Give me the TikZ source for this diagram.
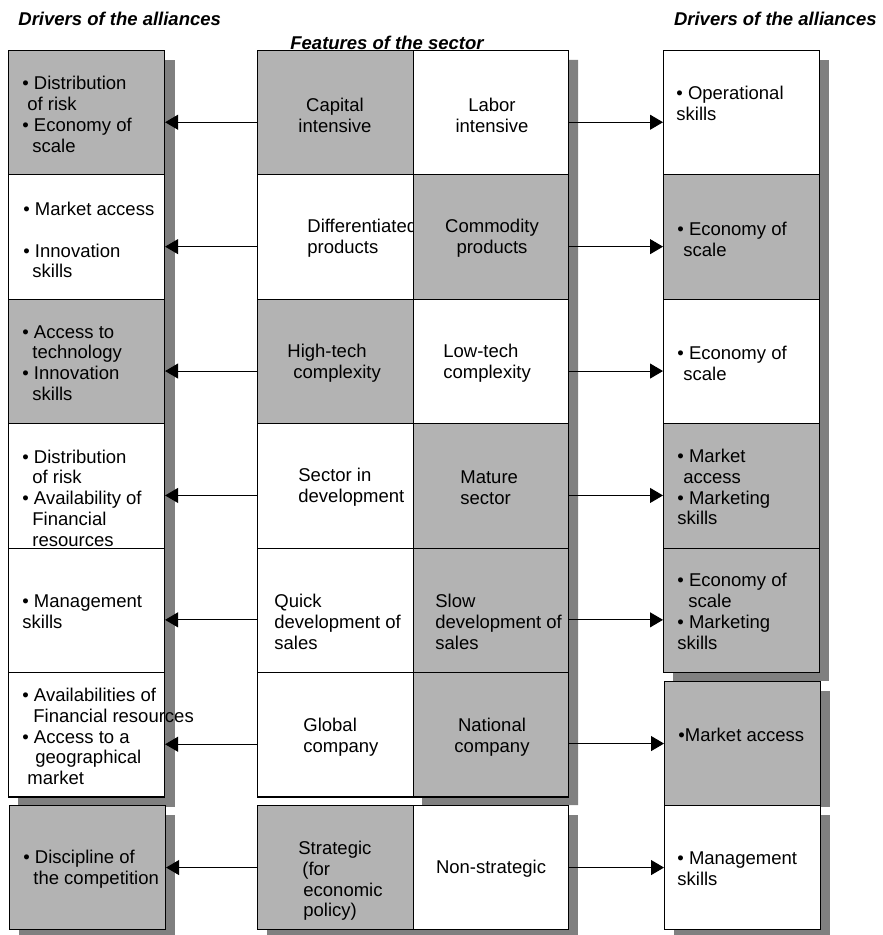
\documentclass[tikz,border=0pt]{standalone}
\usepackage{fontspec}
\setmainfont{Liberation Sans}
\usetikzlibrary{arrows.meta}
\definecolor{boxgrey}{RGB}{179,179,179}
\definecolor{shadowgrey}{RGB}{128,128,128}
\tikzset{every node/.style={align=left}}
\tikzset{cell/.style={draw, line width=0.55pt, anchor=north west, inner sep=0pt, minimum width=78pt, minimum height=62.2pt}}
\tikzset{greycell/.style={cell, fill=boxgrey}}
\tikzset{whitecell/.style={cell, fill=white}}
\tikzset{txt/.style={inner sep=0pt, anchor=west, font=\fontsize{9.25}{10.4}\selectfont}}
\tikzset{ctxt/.style={txt, anchor=center, align=center}}
\tikzset{heading/.style={inner sep=0pt, font=\fontsize{9.25}{10.4}\selectfont\bfseries\itshape}}
\tikzset{shadowbox/.style={fill=shadowgrey}}
\tikzset{arr/.style={line width=0.5pt, -{Triangle[length=6.5pt, width=7.5pt]}}}

\begin{document}
\begin{tikzpicture}[x=0.5pt, y=-0.5pt]
	\useasboundingbox (0,0) rectangle (882,935);
	
	% Shadows
	\fill[shadowbox] (18,60) rectangle (175,807);
	\fill[shadowbox] (19,815) rectangle (175,935);
	\fill[shadowbox] (568,60) -- (578,60) -- (578,805) -- (422,805) -- (422,796) -- (568,796) -- cycle;
	\fill[shadowbox] (267,815) rectangle (578,935);
	\fill[shadowbox] (673,60) rectangle (829,681);
	\fill[shadowbox] (674,691) rectangle (830,807);
	\fill[shadowbox] (674,815) rectangle (830,935);
	
	% Headings
	\node[heading, anchor=west] (hl) at (18,19) {Drivers of the alliances};
	\node[heading, anchor=east] (hr) at (877,19) {Drivers of the alliances};
	\node[heading, anchor=base west] (hm) at (290,49.5) {Features of the sector};
	
	% Left column
	\node[greycell] (l1) at (8,50) {};
	\node[whitecell] (l2) at (8,174.4) {};
	\node[greycell] (l3) at (8,298.8) {};
	\node[whitecell] (l4) at (8,423.2) {};
	\node[whitecell] (l5) at (8,547.6) {};
	\node[whitecell] (l6) at (8,672) {};
	\node[greycell, minimum height=62pt] (l7) at (9,805) {};
	%% Text
	\node[txt] (tl1) at (22,114.5) {• Distribution\\\hspace*{2.5pt}of risk\\• Economy of\\\hspace*{5pt}scale};
	\node[txt] (tl2) at (23,240) {• Market access\\[10.4pt]• Innovation\\\hspace*{4.5pt}skills};
	\node[txt] (tl3) at (22,363) {• Access to\\\hspace*{5pt}technology\\• Innovation\\\hspace*{5pt}skills};
	\node[txt] (tl4) at (22,498) {• Distribution\\\hspace*{5pt}of risk\\• Availability of\\\hspace*{5pt}Financial\\\hspace*{5pt}resources};
	\node[txt] (tl5) at (22,612) {• Management\\skills};
	\node[txt] (tl6) at (22,736.5) {• Availabilities of\\\hspace*{5.5pt}Financial resources\\• Access to a\\\hspace*{6.5pt}geographical\\\hspace*{2.5pt}market};
	\node[txt] (tl7) at (23,869) {• Discipline of\\\hspace*{5pt}the competition};
	
	% Features, left half
	\node[greycell] (m1l) at (257,50) {};
	\node[whitecell] (m2l) at (257,174.4) {};
	\node[greycell] (m3l) at (257,298.8) {};
	\node[whitecell] (m4l) at (257,423.2) {};
	\node[whitecell] (m5l) at (257,547.6) {};
	\node[whitecell] (m6l) at (257,672) {};
	\node[greycell, minimum height=62pt] (m7l) at (257,805) {};
	%% Text
	\node[ctxt] (tm1l) at (335,115) {Capital\\intensive};
	\node[txt] (tm2l) at (307,238.5) {Differentiated\\products};
	\node[txt] (tm3l) at (287,363) {High-tech\\\hspace*{3pt}complexity};
	\node[txt] (tm4l) at (298,487.5) {Sector in\\development};
	\node[txt] (tm5l) at (274,622) {Quick\\development of\\sales};
	\node[txt] (tm6l) at (303,737) {Global\\company};
	\node[txt] (tm7l) at (298,881) {Strategic\\\hspace*{2pt}(for\\\hspace*{2.5pt}economic\\\hspace*{2.5pt}policy)};
	
	% Features, right half
	\node[whitecell, minimum width=77.5pt] (m1r) at (413,50) {};
	\node[greycell, minimum width=77.5pt] (m2r) at (413,174.4) {};
	\node[whitecell, minimum width=77.5pt] (m3r) at (413,298.8) {};
	\node[greycell, minimum width=77.5pt] (m4r) at (413,423.2) {};
	\node[greycell, minimum width=77.5pt] (m5r) at (413,547.6) {};
	\node[greycell, minimum width=77.5pt] (m6r) at (413,672) {};
	\node[whitecell, minimum width=77.5pt, minimum height=62pt] (m7r) at (413,805) {};
	%% Text
	\node[ctxt] (tm1r) at (492,115) {Labor\\intensive};
	\node[ctxt] (tm2r) at (492,238.5) {Commodity\\products};
	\node[txt] (tm3r) at (443,363) {Low-tech\\complexity};
	\node[txt] (tm4r) at (460,487.5) {Mature\\sector};
	\node[txt] (tm5r) at (435,622) {Slow\\development of\\sales};
	\node[ctxt] (tm6r) at (492,737) {National\\company};
	\node[ctxt] (tm7r) at (491,869) {Non-strategic};
	
	% Right column
	\node[whitecell] (r1) at (663,50) {};
	\node[greycell] (r2) at (663,174.4) {};
	\node[whitecell] (r3) at (663,298.8) {};
	\node[greycell] (r4) at (663,423.2) {};
	\node[greycell] (r5) at (663,547.6) {};
	\node[greycell, minimum height=62pt] (r6) at (664,681) {};
	\node[whitecell, minimum height=62pt] (r7) at (664,805) {};
	%% Text
	\node[txt] (tr1) at (676,103) {• Operational\\skills};
	\node[txt] (tr2) at (677,239) {• Economy of\\\hspace*{3pt}scale};
	\node[txt] (tr3) at (677,363) {• Economy of\\\hspace*{3pt}scale};
	\node[txt] (tr4) at (677,487) {• Market\\\hspace*{3pt}access\\• Marketing\\skills};
	\node[txt] (tr5) at (677,611.5) {• Economy of\\\hspace*{5.5pt}scale\\• Marketing\\skills};
	\node[txt] (tr6) at (678,735) {•Market access};
	\node[txt] (tr7) at (677,869) {• Management\\skills};
	
	% Arrows to the left
	\draw[arr] ([yshift=-4.75pt]m1l.west) -- ([yshift=-4.75pt]l1.east);
	\draw[arr] ([yshift=-4.75pt]m2l.west) -- ([yshift=-4.75pt]l2.east);
	\draw[arr] ([yshift=-4.75pt]m3l.west) -- ([yshift=-4.75pt]l3.east);
	\draw[arr] ([yshift=-4.75pt]m4l.west) -- ([yshift=-4.75pt]l4.east);
	\draw[arr] ([yshift=-4.75pt]m5l.west) -- ([yshift=-4.75pt]l5.east);
	\draw[arr] ([yshift=-4.75pt]m6l.west) -- ([yshift=-4.75pt]l6.east);
	\draw[arr] (m7l.west) -- (l7.east);
	
	% Arrows to the right
	\draw[arr] ([yshift=-4.75pt]m1r.east) -- ([yshift=-4.75pt]r1.west);
	\draw[arr] ([yshift=-4.75pt]m2r.east) -- ([yshift=-4.75pt]r2.west);
	\draw[arr] ([yshift=-4.75pt]m3r.east) -- ([yshift=-4.75pt]r3.west);
	\draw[arr] ([yshift=-4.75pt]m4r.east) -- ([yshift=-4.75pt]r4.west);
	\draw[arr] ([yshift=-4.75pt]m5r.east) -- ([yshift=-4.75pt]r5.west);
	\draw[arr] (m6r.east |- r6.west) -- (r6.west);
	\draw[arr] (m7r.east) -- (r7.west);
\end{tikzpicture}
\end{document}
